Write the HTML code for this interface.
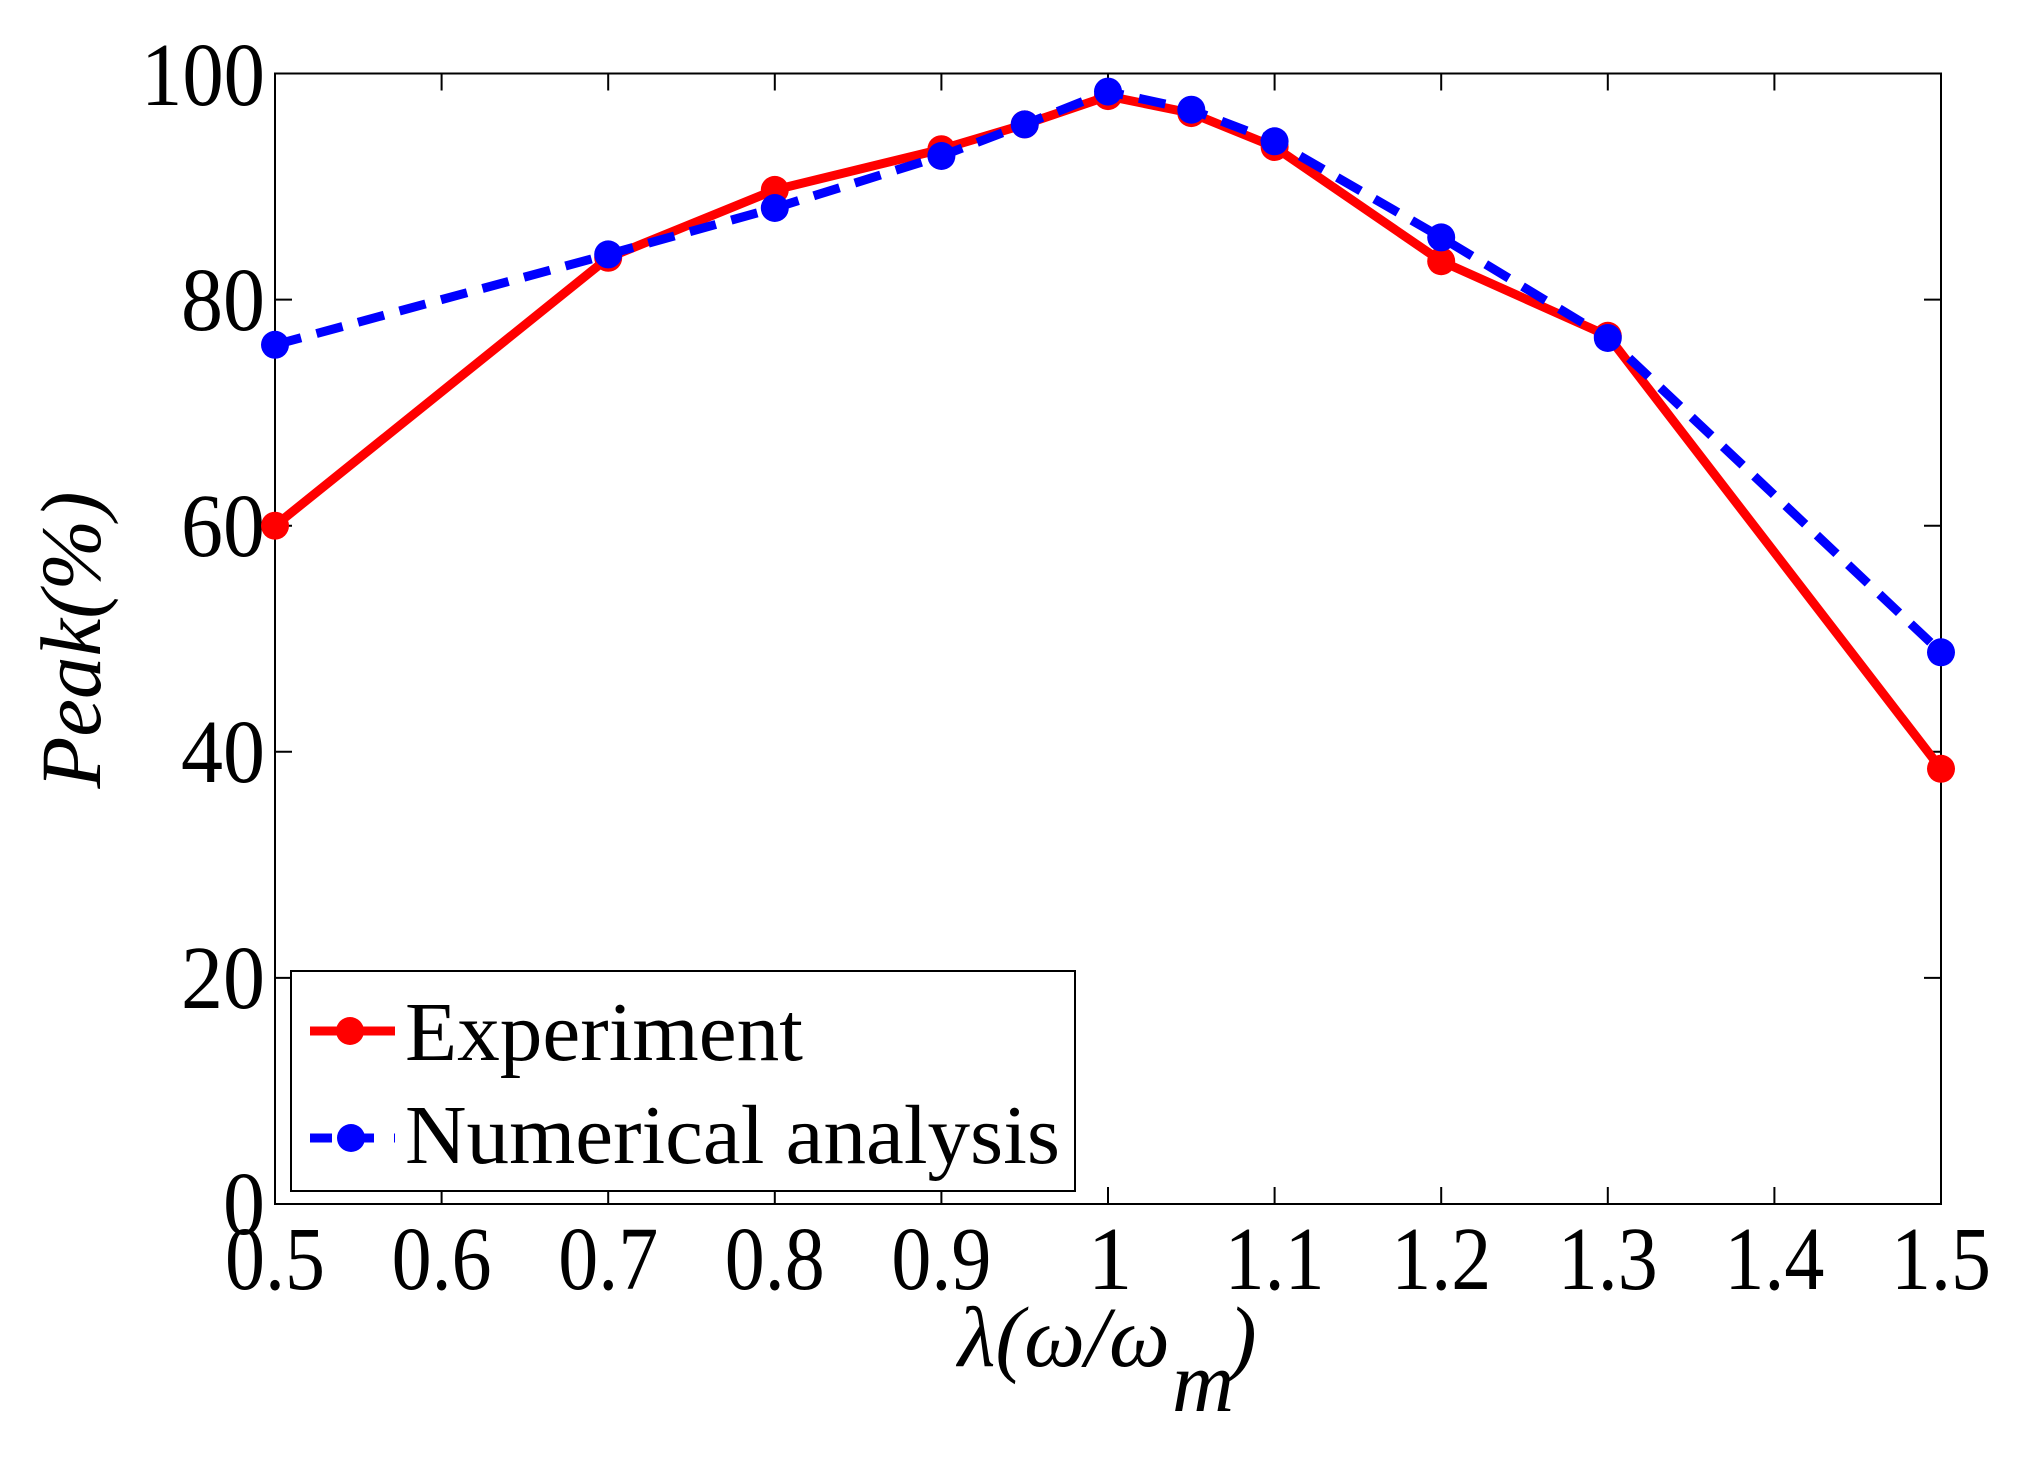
<!DOCTYPE html>
<html><head><meta charset="utf-8"><style>html,body{margin:0;padding:0;background:#fff}svg{display:block}</style></head>
<body>
<svg width="2026" height="1468" viewBox="0 0 2026 1468" xmlns="http://www.w3.org/2000/svg" font-family="'Liberation Serif', serif">
<rect width="2026" height="1468" fill="#fff"/>
<g stroke="#000" stroke-width="2" fill="none">
<rect x="275" y="73.5" width="1666" height="1130.5"/>
<path d="M441.6,1204v-17M608.2,1204v-17M774.8,1204v-17M941.4,1204v-17M1108,1204v-17M1274.6,1204v-17M1441.2,1204v-17M1607.8,1204v-17M1774.4,1204v-17
M441.6,73.5v17M608.2,73.5v17M774.8,73.5v17M941.4,73.5v17M1108,73.5v17M1274.6,73.5v17M1441.2,73.5v17M1607.8,73.5v17M1774.4,73.5v17
M275,977.9h17M275,751.8h17M275,525.7h17M275,299.6h17
M1941,977.9h-17M1941,751.8h-17M1941,525.7h-17M1941,299.6h-17"/>
</g>
<g font-size="90" text-anchor="end" fill="#000">
<text x="265" y="105" textLength="124" lengthAdjust="spacingAndGlyphs">100</text>
<text x="265" y="330" textLength="84" lengthAdjust="spacingAndGlyphs">80</text>
<text x="265" y="556" textLength="84" lengthAdjust="spacingAndGlyphs">60</text>
<text x="265" y="782" textLength="84" lengthAdjust="spacingAndGlyphs">40</text>
<text x="265" y="1008" textLength="84" lengthAdjust="spacingAndGlyphs">20</text>
<text x="265" y="1234" textLength="42" lengthAdjust="spacingAndGlyphs">0</text>
</g>
<g font-size="90" text-anchor="middle" fill="#000">
<text x="275" y="1289" textLength="100" lengthAdjust="spacingAndGlyphs">0.5</text>
<text x="441.6" y="1289" textLength="100" lengthAdjust="spacingAndGlyphs">0.6</text>
<text x="608.2" y="1289" textLength="100" lengthAdjust="spacingAndGlyphs">0.7</text>
<text x="774.8" y="1289" textLength="100" lengthAdjust="spacingAndGlyphs">0.8</text>
<text x="941.4" y="1289" textLength="100" lengthAdjust="spacingAndGlyphs">0.9</text>
<text x="1110" y="1289">1</text>
<text x="1274.6" y="1289" textLength="100" lengthAdjust="spacingAndGlyphs">1.1</text>
<text x="1441.2" y="1289" textLength="100" lengthAdjust="spacingAndGlyphs">1.2</text>
<text x="1607.8" y="1289" textLength="100" lengthAdjust="spacingAndGlyphs">1.3</text>
<text x="1774.4" y="1289" textLength="100" lengthAdjust="spacingAndGlyphs">1.4</text>
<text x="1941" y="1289" textLength="100" lengthAdjust="spacingAndGlyphs">1.5</text>
</g>
<g font-size="86" font-style="italic" fill="#000">
<text x="958" y="1366" textLength="212" lengthAdjust="spacingAndGlyphs">λ(ω/ω</text>
<text x="1172" y="1411">m</text>
<text x="1228" y="1366">)</text>
<text transform="translate(100,640) rotate(-90)" text-anchor="middle" textLength="297" lengthAdjust="spacingAndGlyphs">Peak(%)</text>
</g>
<polyline fill="none" stroke="#f00" stroke-width="9" stroke-linejoin="round" points="275,525.7 608.2,257.8 774.8,189.9 941.4,149.2 1024.7,124.4 1108,96.1 1191.3,113.1 1274.6,147 1441.2,261.2 1607.8,335.8 1941,768.8"/>
<g fill="#f00">
<circle cx="275" cy="525.7" r="14"/><circle cx="608.2" cy="257.8" r="14"/><circle cx="774.8" cy="189.9" r="14"/><circle cx="941.4" cy="149.2" r="14"/><circle cx="1024.7" cy="124.4" r="14"/><circle cx="1108" cy="96.1" r="14"/><circle cx="1191.3" cy="113.1" r="14"/><circle cx="1274.6" cy="147" r="14"/><circle cx="1441.2" cy="261.2" r="14"/><circle cx="1607.8" cy="335.8" r="14"/><circle cx="1941" cy="768.8" r="14"/>
</g>
<polyline fill="none" stroke="#00f" stroke-width="9" stroke-dasharray="27,16" points="275,344.8 608.2,254.4 774.8,208 941.4,156 1024.7,124.4 1108,91.6 1191.3,109.7 1274.6,141.3 1441.2,237.4 1607.8,338 1941,652.3"/>
<g fill="#00f">
<circle cx="275" cy="344.8" r="14"/><circle cx="608.2" cy="254.4" r="14"/><circle cx="774.8" cy="208" r="14"/><circle cx="941.4" cy="156" r="14"/><circle cx="1024.7" cy="124.4" r="14"/><circle cx="1108" cy="91.6" r="14"/><circle cx="1191.3" cy="109.7" r="14"/><circle cx="1274.6" cy="141.3" r="14"/><circle cx="1441.2" cy="237.4" r="14"/><circle cx="1607.8" cy="338" r="14"/><circle cx="1941" cy="652.3" r="14"/>
</g>
<rect x="291" y="971" width="784" height="220" fill="#fff" stroke="#000" stroke-width="2"/>
<line x1="310" y1="1031" x2="395" y2="1031" stroke="#f00" stroke-width="9"/>
<circle cx="350" cy="1031" r="14" fill="#f00"/>
<line x1="310" y1="1138" x2="395" y2="1138" stroke="#00f" stroke-width="9" stroke-dasharray="22,20"/>
<circle cx="351" cy="1138" r="14" fill="#00f"/>
<g font-size="84" fill="#000">
<text x="405" y="1060" textLength="398" lengthAdjust="spacingAndGlyphs">Experiment</text>
<text x="405" y="1163" textLength="655" lengthAdjust="spacingAndGlyphs">Numerical analysis</text>
</g>
</svg>
</body></html>
